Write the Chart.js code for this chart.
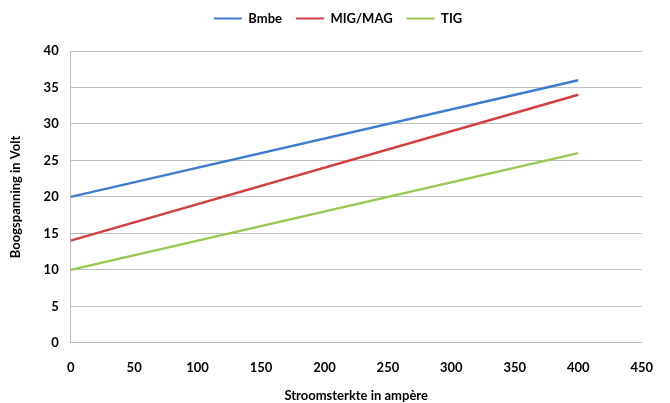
<!DOCTYPE html>
<html>
<head>
<meta charset="utf-8">
<script src="https://cdn.jsdelivr.net/npm/chart.js@4/dist/chart.umd.min.js"></script>
<style>
html,body{margin:0;padding:0;background:#fff;}
#wrap{width:670px;height:403px;}
</style>
</head>
<body>
<div id="wrap"><canvas id="c" width="670" height="403"></canvas></div>
<script>
const currents = [0, 400];
const bmbe = [20, 36];
const migMag = [14, 34];
const tig = [10, 26];
const seriesNames = ['Bmbe', 'MIG/MAG', 'TIG'];
const xTitle = 'Stroomsterkte in ampère';
const yTitle = 'Boogspanning in Volt';

const colors = ['#3f7bd0', '#d23f3f', '#98c84f'];
const toPts = arr => currents.map((x, i) => ({x: x, y: arr[i]}));
const FONT = 'Lato, "Open Sans", sans-serif';

const legendMargin = {
  id: 'legendMargin',
  beforeInit(chart) {
    const orig = chart.legend.fit;
    chart.legend.fit = function () {
      orig.bind(chart.legend)();
      this.height += 16;
    };
  }
};

new Chart(document.getElementById('c'), {
  type: 'line',
  data: {
    datasets: [bmbe, migMag, tig].map((arr, i) => ({
      label: seriesNames[i],
      data: toPts(arr),
      borderColor: colors[i],
      backgroundColor: colors[i],
      borderWidth: 2.5,
      pointRadius: 0,
      tension: 0
    }))
  },
  plugins: [legendMargin],
  options: {
    responsive: false,
    animation: false,
    layout: {padding: {left: 8, right: 2, top: -2, bottom: -1}},
    plugins: {
      legend: {
        position: 'top',
        labels: {
          boxWidth: 28,
          boxHeight: 2,
          padding: 14,
          color: '#000',
          font: {family: FONT, size: 13, weight: 'bold'},
          generateLabels(chart) {
            const items = Chart.defaults.plugins.legend.labels.generateLabels(chart);
            items.forEach(it => { it.lineWidth = 0; });
            return items;
          }
        }
      },
      tooltip: {enabled: false}
    },
    scales: {
      x: {
        type: 'linear',
        min: 0, max: 450,
        ticks: {stepSize: 50, padding: 17, color: '#000', font: {family: FONT, size: 13, weight: 'bold'}},
        grid: {display: false, drawTicks: false},
        border: {display: true, color: '#bdbdbd', width: 1},
        title: {display: true, text: xTitle, color: '#000', padding: {top: -4, bottom: 0}, font: {family: FONT, size: 13, weight: 'bold'}}
      },
      y: {
        min: 0, max: 40,
        ticks: {stepSize: 5, padding: 12, color: '#000', font: {family: FONT, size: 13, weight: 'bold'}},
        grid: {color: '#bfbfbf', drawTicks: false},
        border: {display: true, color: '#bdbdbd', width: 1},
        title: {display: true, text: yTitle, color: '#000', padding: {top: 0, bottom: 8}, font: {family: FONT, size: 13, weight: 'bold'}}
      }
    }
  }
});
</script>
</body>
</html>
